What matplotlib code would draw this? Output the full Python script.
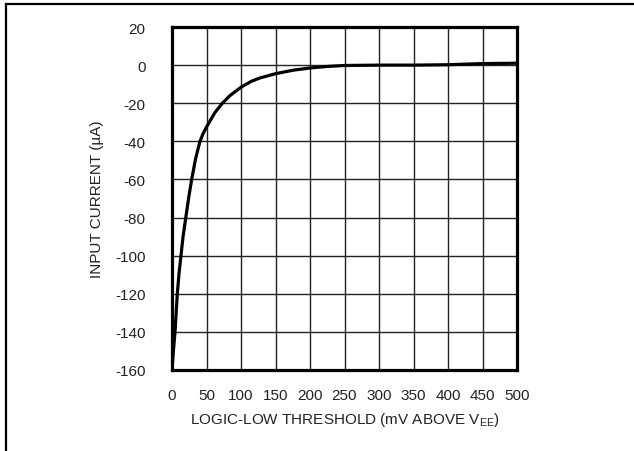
import matplotlib
matplotlib.use("Agg")
import matplotlib.pyplot as plt
from matplotlib.lines import Line2D

plt.rcParams['font.family'] = ['Liberation Sans Narrow', 'Liberation Sans', 'DejaVu Sans']
plt.rcParams['axes.unicode_minus'] = False

# threshold in mV above VEE, current in uA
schwelle = [0, 2, 4.4, 6, 7.7, 10, 13, 16, 20, 24, 28.5, 34, 37, 40.6, 45, 50, 62, 73, 84,
            100, 115, 127, 150, 175, 200, 225, 250, 300, 350, 400, 450, 500]
strom = [-160, -150, -140, -130, -120, -110, -100, -90, -80, -70, -60, -49.5, -45, -40, -36,
         -32.5, -25, -20, -16, -11.6, -8.5, -6.8, -4.5, -2.7, -1.5, -0.7, -0.2, 0, 0, 0.2, 0.8, 1]

x_ticks = list(range(0, 501, 50))
y_ticks = list(range(-160, 21, 20))

fig = plt.figure(figsize=(6.34, 4.52), dpi=100)
ax = fig.add_axes([172 / 634, 1 - 371 / 452, 345 / 634, 343 / 452])

ax.plot(schwelle, strom, color="black", linewidth=2.3, solid_capstyle="butt", solid_joinstyle="round")

ax.set_xlim(0, 500)
ax.set_ylim(-160, 20)
ax.set_xticks(x_ticks)
ax.set_yticks(y_ticks)
ax.grid(True, color="#222222", linewidth=1.0)
ax.tick_params(length=0, labelsize=11, colors="#222222")
ax.tick_params(axis="y", pad=19)
ax.tick_params(axis="x", pad=13)
for s in ax.spines.values():
    s.set_linewidth(2.3)
    s.set_color("black")

ax.set_xlabel("LOGIC-LOW THRESHOLD (mV ABOVE V$_{\\mathregular{EE}}$)", fontsize=11, color="#222222", labelpad=6)
ax.set_ylabel("INPUT CURRENT (µA)", fontsize=11, color="#222222", labelpad=8)

# partial outer frame (top and left edge only)
fig.add_artist(Line2D([6 / 634, 1], [1 - 5 / 452, 1 - 5 / 452], color="black", linewidth=1.6, transform=fig.transFigure))
fig.add_artist(Line2D([6 / 634, 6 / 634], [0, 1 - 5 / 452], color="black", linewidth=1.6, transform=fig.transFigure))

fig.savefig("out.png", dpi=100)
